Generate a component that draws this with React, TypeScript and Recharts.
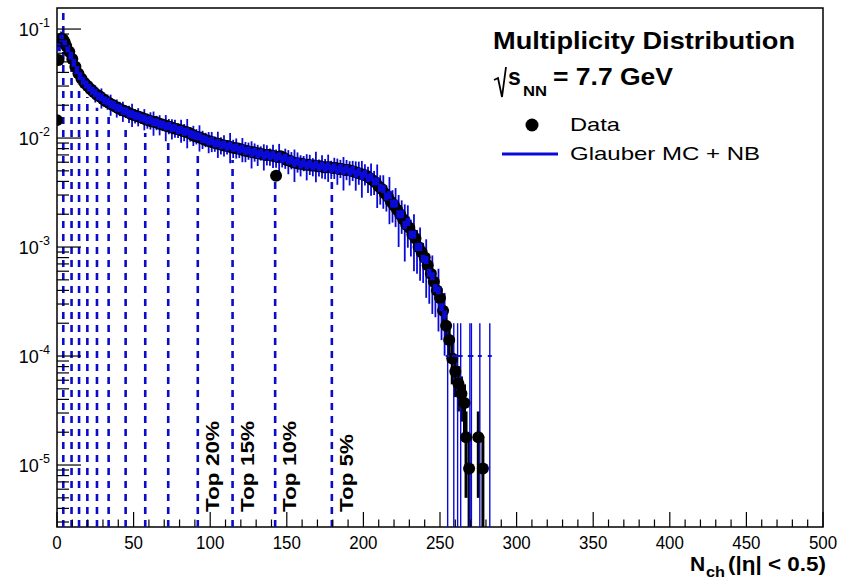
import React from 'react';
import { ComposedChart, Line, Scatter, XAxis, YAxis, ErrorBar, ReferenceLine, ReferenceArea } from 'recharts';

const FONT = '"Liberation Sans", Arial, Helvetica, sans-serif';
const BLUE = '#0a0ad8';
const DASH_BLUE = '#0c0cc8';
const Y_MIN = 2.7e-6;
const Y_MAX = 0.156;

const xMajorTicks = [0, 50, 100, 150, 200, 250, 300, 350, 400, 450, 500];
const yMajorTicks = [1e-5, 1e-4, 1e-3, 1e-2, 1e-1];
const yMajorExp = ['-5', '-4', '-3', '-2', '-1'];

// measured data (black points)
const dataNch = [0, 1, 2, 3, 4, 5, 6, 8, 10, 12, 14, 16, 18, 20, 22, 24, 26, 28, 30, 32,
  34, 36, 38, 40, 42, 44, 46, 48, 50, 52, 54, 56, 58, 60, 62, 64, 66, 68, 70, 72,
  74, 76, 78, 80, 82, 84, 86, 88, 90, 92, 94, 96, 98, 100, 102, 104, 106, 108, 110, 112,
  114, 116, 118, 120, 122, 124, 126, 128, 130, 132, 134, 136, 138, 140, 142, 143, 144, 146, 148, 150,
  152, 154, 156, 158, 160, 162, 164, 166, 168, 170, 172, 174, 176, 178, 180, 182, 184, 186, 188, 190,
  192, 194, 196, 198, 200, 202, 204, 206, 208, 210, 212, 214, 216, 218, 220, 222, 224, 226, 228, 230,
  232, 234, 236, 238, 240, 242];
const dataVal = [0.0146, 0.052, 0.078, 0.082, 0.080, 0.076, 0.070, 0.062, 0.053, 0.045, 0.039, 0.035, 0.032, 0.030, 0.028, 0.0265, 0.025, 0.024, 0.0228, 0.0218,
  0.021, 0.0202, 0.0195, 0.0188, 0.0182, 0.0177, 0.0172, 0.0167, 0.0163, 0.0159, 0.0156, 0.0152, 0.0148, 0.0145, 0.0142, 0.0140, 0.0137, 0.0134, 0.0131, 0.0128,
  0.0126, 0.0123, 0.0121, 0.0119, 0.0116, 0.0114, 0.0112, 0.0108, 0.0104, 0.0102, 0.0100, 0.0097, 0.0095, 0.0093, 0.0091, 0.0089, 0.0088, 0.0086, 0.0085, 0.0084,
  0.0082, 0.0081, 0.0080, 0.0079, 0.0077, 0.0076, 0.0075, 0.0074, 0.0073, 0.0072, 0.0071, 0.0070, 0.0070, 0.0069, 0.0068, 0.0045, 0.0067, 0.0068, 0.0066, 0.0063,
  0.0062, 0.0060, 0.0059, 0.0058, 0.0058, 0.0057, 0.0057, 0.0056, 0.0056, 0.0055, 0.0055, 0.0054, 0.0054, 0.0054, 0.0053, 0.0053, 0.0052, 0.0052, 0.0051, 0.0051,
  0.0050, 0.0049, 0.0048, 0.0047, 0.0046, 0.0045, 0.0043, 0.0041, 0.0039, 0.0036, 0.0034, 0.0031, 0.0029, 0.0026, 0.0024, 0.0022, 0.0020, 0.0018, 0.0016, 0.0015,
  0.0013, 0.0012, 0.0010, 0.00090, 0.00080, 0.00068];

const tailNch = [244, 246, 248, 250, 252, 254, 256, 258, 260, 262, 264, 266, 267, 269, 275, 278];
const tailVal = [0.00057, 0.00048, 0.00040, 0.00034, 0.00026, 0.00019, 0.00014, 0.000095, 0.000072, 0.000056, 0.000045, 0.000037, 0.000018, 0.0000093, 0.000018, 0.0000093];
const tailErr = [0.00012, 0.0001, 0.00009, 0.00008, 0.00007, 0.00006, 0.00005, 0.00004, 0.00003, 0.000025, 0.00002, 0.000018, 0.000013, 0.0000092, 0.000013, 0.0000092];

// Glauber MC + NB (blue)
const mcNch = [1, 3, 5, 7, 9, 11, 13, 15, 17, 19, 21, 23, 25, 27, 29, 31, 33, 35, 37, 39,
  41, 43, 45, 47, 49, 51, 53, 55, 57, 59, 61, 63, 65, 67, 69, 71, 73, 75, 77, 79,
  81, 83, 85, 87, 89, 91, 93, 95, 97, 99, 101, 103, 105, 107, 109, 111, 113, 115, 117, 119,
  121, 123, 125, 127, 129, 131, 133, 135, 137, 139, 141, 143, 145, 147, 149, 151, 153, 155, 157, 159,
  161, 163, 165, 167, 169, 171, 173, 175, 177, 179, 181, 183, 185, 187, 189, 191, 193, 195, 197, 199,
  201, 203, 205, 207, 209, 211, 213, 215, 217, 219, 221, 223, 225, 227, 229, 231, 233, 235, 237, 239,
  241, 243, 245, 247, 249, 251, 253];
const mcVal = [0.068, 0.083, 0.074, 0.066, 0.057, 0.049, 0.042, 0.037, 0.0335, 0.031,
  0.029, 0.0272, 0.0258, 0.0243, 0.0236, 0.0222, 0.0216, 0.0205, 0.0200, 0.0190,
  0.0187, 0.0178, 0.0176, 0.0168, 0.0166, 0.0160, 0.0158, 0.0153, 0.0151, 0.0145,
  0.0146, 0.0140, 0.0139, 0.0134, 0.0133, 0.0128, 0.0129, 0.0123, 0.0124, 0.0118,
  0.0119, 0.0114, 0.0115, 0.0109, 0.0107, 0.0104, 0.0103, 0.0098, 0.0097, 0.0093,
  0.0094, 0.0089, 0.0090, 0.0086, 0.0087, 0.0083, 0.0085, 0.0081, 0.0082, 0.0078,
  0.0080, 0.0076, 0.0077, 0.0073, 0.0075, 0.0071, 0.0073, 0.0069, 0.0071, 0.0068,
  0.0070, 0.0066, 0.0068, 0.0064, 0.0066, 0.0062, 0.0063, 0.0059, 0.0061, 0.0057,
  0.0059, 0.0056, 0.0058, 0.0055, 0.0057, 0.0054, 0.0056, 0.0053, 0.0055, 0.0052,
  0.0054, 0.0051, 0.0053, 0.0050, 0.0052, 0.0049, 0.0051, 0.0047, 0.0049, 0.0045,
  0.0047, 0.0043, 0.0044, 0.0040, 0.0040, 0.0035, 0.0034, 0.0029, 0.0030, 0.0025,
  0.0025, 0.0020, 0.0020, 0.0016, 0.0017, 0.0013, 0.0013, 0.0010, 0.0010, 0.00078,
  0.00076, 0.00058, 0.00054, 0.00042, 0.00040, 0.00028, 0.00024];
const mcRelErr = [0.05, 0.06, 0.05, 0.08, 0.07, 0.09, 0.08, 0.10, 0.09, 0.12,
  0.15, 0.10, 0.18, 0.12, 0.21, 0.13, 0.16, 0.22, 0.12, 0.19, 0.15, 0.21, 0.13, 0.18, 0.24, 0.15, 0.19, 0.12, 0.22, 0.16,
  0.18, 0.25, 0.15, 0.21, 0.13, 0.27, 0.16, 0.21, 0.19, 0.15, 0.24, 0.18, 0.30, 0.15, 0.21, 0.16, 0.27, 0.19, 0.15, 0.22,
  0.21, 0.16, 0.27, 0.18, 0.22, 0.15, 0.31, 0.19, 0.21, 0.16, 0.25, 0.21, 0.18, 0.28, 0.19, 0.22, 0.15, 0.27, 0.21, 0.18,
  0.24, 0.19, 0.30, 0.16, 0.21, 0.25, 0.18, 0.33, 0.21, 0.22, 0.16, 0.27, 0.21, 0.19, 0.31, 0.18, 0.24, 0.21, 0.28, 0.19,
  0.22, 0.27, 0.19, 0.34, 0.21, 0.25, 0.21, 0.30, 0.24, 0.37, 0.22, 0.27, 0.33, 0.25, 0.43, 0.30, 0.34, 0.27, 0.46, 0.33,
  0.39, 0.50, 0.34, 0.54, 0.42, 0.37, 0.54, 0.43, 0.51, 0.40, 0.55, 0.48, 0.55, 0.46, 0.58, 0.50, 0.58];

const mcTailNch = [255, 259, 261.5, 263.5, 269.5, 270.5, 276, 282.5];
const mcTailVal = [0.0001, 0.0001, 0.0001, 0.0001, 0.0001, 0.0001, 0.0001, 0.0001];

// centrality cuts
const cutNch = [4.1, 9.5, 14.4, 19.8, 26.1, 33.7, 44.8, 57.6, 72.6, 91.9, 114.6, 142.4, 179.4];
const cutTop = [0.156, 0.049, 0.031, 0.0238, 0.019, 0.0163, 0.0132, 0.0111, 0.0096, 0.0070, 0.0063, 0.0045, 0.0045];
const cutLabelNch = [91.9, 114.6, 142.4, 179.4];
const cutLabelText = ['Top 20%', 'Top 15%', 'Top 10%', 'Top 5%'];

// the error bars stop at the lower edge of the frame
const lowErr = (y: number, e: number) => Math.min(e, y - Y_MIN * 1.0001);

const dataPts = dataNch.map((x, i) => ({ x, y: dataVal[i] }));
const tailPts = tailNch.map((x, i) => ({ x, y: tailVal[i], err: [lowErr(tailVal[i], tailErr[i]), tailErr[i]] }));
const mcPts = mcNch.map((x, i) => ({ x, y: mcVal[i], err: [mcVal[i] * mcRelErr[i], mcVal[i] * mcRelErr[i]] }));
const mcTailPts = mcTailNch.map((x, i) => ({ x, y: mcTailVal[i], err: [lowErr(mcTailVal[i], mcTailVal[i]), mcTailVal[i]] }));
const labelPts = cutLabelNch.map((x, i) => ({ x, y: Y_MIN, text: cutLabelText[i] }));

const xTicks: number[] = [];
for (let i = 0; i < xMajorTicks.length - 1; i++) {
  for (let k = 0; k < 5; k++) xTicks.push(xMajorTicks[i] + k * 10);
}
xTicks.push(500);

const yTicks: number[] = [];
for (let e = -6; e <= -1; e++) {
  for (let k = 1; k <= 9; k++) {
    const v = k * Math.pow(10, e);
    if (v >= Y_MIN && v <= Y_MAX) yTicks.push(v);
  }
}

const XTick = (props: any) => {
  const { x, y, payload } = props;
  const v = payload.value;
  const major = xMajorTicks.includes(v);
  const s = String(v);
  return (
    <g>
      <line x1={x} x2={x} y1={y} y2={y - (major ? 15 : 7.5)} stroke="#000" strokeWidth={1.2} />
      {major && (
        <text x={x} y={y + 22} textAnchor="middle" fontSize={19} fontFamily={FONT} fill="#000"
          textLength={s.length * 9.4} lengthAdjust="spacingAndGlyphs">{s}</text>
      )}
    </g>
  );
};

const YTick = (props: any) => {
  const { x, y, payload } = props;
  const v = payload.value;
  const idx = yMajorTicks.findIndex((m) => Math.abs(m - v) / m < 1e-6);
  const major = idx >= 0;
  return (
    <g>
      <line x1={x} x2={x + (major ? 24 : 12)} y1={y} y2={y} stroke="#000" strokeWidth={1.2} />
      {major && (
        <text x={x - 7} y={y + 7} textAnchor="end" fontSize={18} fontFamily={FONT} fill="#000">
          10<tspan dy={-9} fontSize={12.5}>{yMajorExp[idx]}</tspan>
        </text>
      )}
    </g>
  );
};

const DataDot = (p: any) => <circle cx={p.cx} cy={p.cy} r={6} fill="#000" />;
const McBin = (p: any) => (
  <rect x={p.cx - 2.3} y={p.cy - 4} width={4.6} height={8} fill={BLUE} />
);
const McMark = (p: any) => (
  <line x1={p.cx - 2} x2={p.cx + 2} y1={p.cy} y2={p.cy} stroke={BLUE} strokeWidth={2} />
);
const CutLabel = (p: any) => (
  <text transform={`translate(${p.cx + 21},${p.cy - 15}) rotate(-90)`} fontSize={19} fontWeight="bold"
    fontFamily={FONT} fill="#000" textLength={p.payload.text.length === 6 ? 78 : 91}
    lengthAdjust="spacingAndGlyphs">{p.payload.text}</text>
);

export default function App() {
  return (
    <div style={{ position: 'absolute', left: 0, top: 0, width: 848, height: 580, background: '#fff' }}>
      <ComposedChart width={848} height={580} margin={{ top: 8, right: 25, bottom: 0, left: 0 }}>
        <XAxis type="number" dataKey="x" domain={[0, 500]} ticks={xTicks} interval={0} allowDataOverflow
          axisLine={false} tickLine={false} tickSize={0} tickMargin={0} height={53} tick={<XTick />} />
        <YAxis type="number" dataKey="y" scale="log" domain={[Y_MIN, Y_MAX]} ticks={yTicks} interval={0}
          allowDataOverflow axisLine={false} tickLine={false} tickSize={0} tickMargin={0} width={57} tick={<YTick />} />
        {cutNch.map((n, i) => (
          <ReferenceLine key={`cut${i}`} segment={[{ x: n, y: Y_MIN }, { x: n, y: cutTop[i] }]}
            stroke={DASH_BLUE} strokeWidth={2.6} strokeDasharray="7 6" ifOverflow="visible" />
        ))}
        <Line data={mcPts} dataKey="y" stroke={BLUE} strokeWidth={6} dot={false} isAnimationActive={false} />
        <Scatter data={dataPts} shape={<DataDot />} isAnimationActive={false} />
        <Scatter data={tailPts} shape={<DataDot />} isAnimationActive={false}>
          <ErrorBar dataKey="err" direction="y" stroke="#000" strokeWidth={3} width={0} />
        </Scatter>
        <Scatter data={mcPts} shape={<McBin />} isAnimationActive={false}>
          <ErrorBar dataKey="err" direction="y" stroke={BLUE} strokeWidth={1.8} width={0} />
        </Scatter>
        <Scatter data={mcTailPts} shape={<McMark />} isAnimationActive={false}>
          <ErrorBar dataKey="err" direction="y" stroke={BLUE} strokeWidth={1.4} width={0} />
        </Scatter>
        <Scatter data={labelPts} shape={<CutLabel />} isAnimationActive={false} />
        <ReferenceArea x1={0} x2={500} y1={Y_MIN} y2={Y_MAX} fill="none" fillOpacity={0} stroke="#000"
          strokeWidth={1.5} ifOverflow="visible" />
      </ComposedChart>
      <svg width={848} height={580} style={{ position: 'absolute', left: 0, top: 0, pointerEvents: 'none' }}>
        <text x={493} y={49} fontSize={23} fontWeight="bold" fontFamily={FONT} fill="#000"
          textLength={302} lengthAdjust="spacingAndGlyphs">Multiplicity Distribution</text>
        <path d="M 494 80 L 498 78 L 502 97 L 506 67" stroke="#000" strokeWidth={1.8} fill="none" />
        <text x={508} y={85} fontSize={23} fontWeight="bold" fontFamily={FONT} fill="#000">s</text>
        <text x={523} y={96} fontSize={15} fontWeight="bold" fontFamily={FONT} fill="#000"
          textLength={24} lengthAdjust="spacingAndGlyphs">NN</text>
        <text x={553} y={85} fontSize={23} fontWeight="bold" fontFamily={FONT} fill="#000"
          textLength={120} lengthAdjust="spacingAndGlyphs">= 7.7 GeV</text>
        <circle cx={532} cy={125} r={6.5} fill="#000" />
        <text x={570} y={131} fontSize={18.5} fontFamily={FONT} fill="#000"
          textLength={50} lengthAdjust="spacingAndGlyphs">Data</text>
        <line x1={502} x2={558} y1={154} y2={154} stroke={BLUE} strokeWidth={3} />
        <text x={570} y={160} fontSize={18.5} fontFamily={FONT} fill="#000"
          textLength={190} lengthAdjust="spacingAndGlyphs">Glauber MC + NB</text>
        <text x={690} y={571} fontSize={21} fontWeight="bold" fontFamily={FONT} fill="#000">N</text>
        <text x={706} y={577} fontSize={15} fontWeight="bold" fontFamily={FONT} fill="#000"
          textLength={19} lengthAdjust="spacingAndGlyphs">ch</text>
        <text x={728} y={571} fontSize={21} fontWeight="bold" fontFamily={FONT} fill="#000"
          textLength={98} lengthAdjust="spacingAndGlyphs">(|η| &lt; 0.5)</text>
      </svg>
    </div>
  );
}
